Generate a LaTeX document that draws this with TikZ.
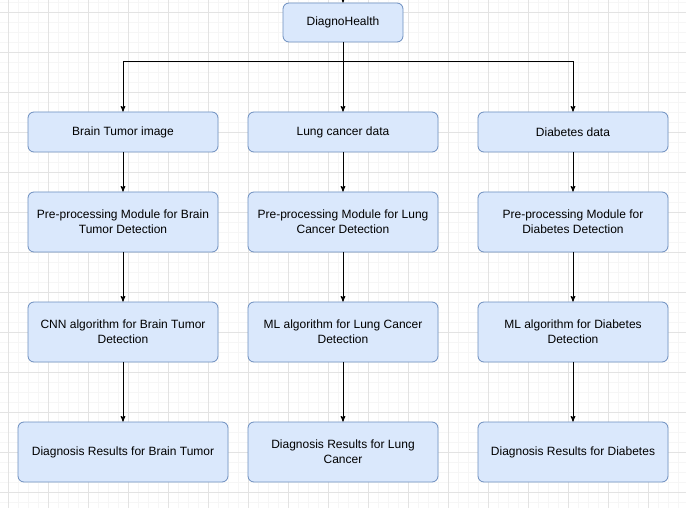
\documentclass[tikz,border=0pt]{standalone}
\usepackage{fontspec}
\setmainfont{Liberation Sans}
\usetikzlibrary{arrows,shapes,positioning}
\definecolor{boxfill}{HTML}{DAE8FC}
\definecolor{boxline}{HTML}{6C8EBF}

\begin{document}
\begin{tikzpicture}[x=1pt,y=1pt,>=stealth',font=\fontsize{12}{15}\selectfont]

  \tikzstyle{module}=[rectangle,rounded corners=6pt,draw=boxline,fill=boxfill,line width=0.8pt,
                      minimum width=190pt,minimum height=60pt,align=center,inner sep=2pt]
  \tikzstyle{short module}=[module,minimum height=40pt]
  \tikzstyle{flow}=[->,line width=1pt,black]

  % background grid
  \useasboundingbox (0,0) rectangle (686,-508);
  \fill[white] (0,0) rectangle (686,-508);
  \foreach \x in {-2,8,...,686} \draw[black!3.5,line width=0.6pt] (\x,0) -- (\x,-508);
  \foreach \y in {-2,-12,...,-508} \draw[black!3.5,line width=0.6pt] (0,\y) -- (686,\y);
  \foreach \x in {8,48,...,686} \draw[black!11,line width=0.8pt] (\x,0) -- (\x,-508);
  \foreach \y in {-12,-52,...,-508} \draw[black!11,line width=0.8pt] (0,\y) -- (686,\y);

  % root
  \node[short module,minimum width=120pt,minimum height=39pt] (root) at (343,-22.5) {DiagnoHealth};
  \coordinate (entry) at (343,20);
  \draw[flow] (entry) -- (root);

  % brain tumor branch
  \node[short module] (brain)  at (123,-132) {Brain Tumor image};
  \node[module]       (bpre)   at (123,-222) {Pre-processing Module for Brain\\Tumor Detection};
  \node[module]       (balg)   at (123,-332) {CNN algorithm for Brain Tumor\\Detection};
  \node[module,minimum width=210pt] (bres) at (123,-452) {Diagnosis Results for Brain Tumor};

  % lung cancer branch
  \node[short module] (lung)   at (343,-132) {Lung cancer data};
  \node[module]       (lpre)   at (343,-222) {Pre-processing Module for Lung\\Cancer Detection};
  \node[module]       (lalg)   at (343,-332) {ML algorithm for Lung Cancer\\Detection};
  \node[module]       (lres)   at (343,-452) {Diagnosis Results for Lung\\Cancer};

  % diabetes branch
  \node[short module] (diab)   at (573,-132) {Diabetes data};
  \node[module]       (dpre)   at (573,-222) {Pre-processing Module for\\Diabetes Detection};
  \node[module]       (dalg)   at (573,-332) {ML algorithm for Diabetes\\Detection};
  \node[module]       (dres)   at (573,-452) {Diagnosis Results for Diabetes};

  % connectors
  \coordinate (split) at (343,-62);
  \draw[flow] (root) -- (lung);
  \draw[flow] (split) -| (brain);
  \draw[flow] (split) -| (diab);

  \foreach \a/\b in {brain/bpre,bpre/balg,balg/bres,lung/lpre,lpre/lalg,lalg/lres,diab/dpre,dpre/dalg,dalg/dres}
    \draw[flow] (\a) -- (\b);

\end{tikzpicture}
\end{document}
